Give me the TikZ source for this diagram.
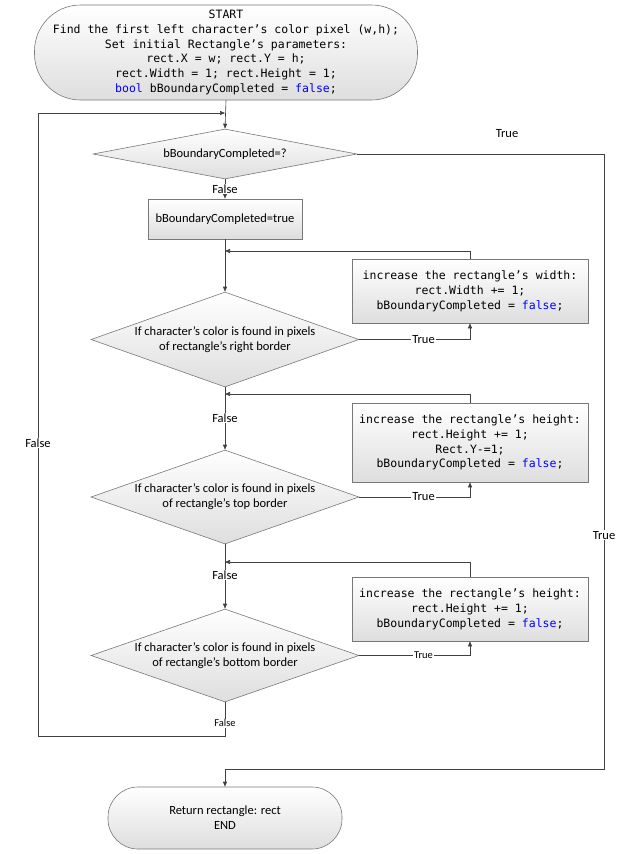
\documentclass[tikz,border=0pt]{standalone}
\usepackage{fontspec}
\setmainfont{Carlito}
\newfontfamily\codefont{DejaVu Sans Mono}
\usetikzlibrary{shapes.geometric,shapes.misc,arrows.meta}
\definecolor{kw}{RGB}{0,0,255}
\definecolor{lncol}{RGB}{64,64,64}
\definecolor{bdcol}{RGB}{120,120,120}
\begin{document}
\begin{tikzpicture}[x=1pt,y=-1pt,
  shadebox/.style={top color=white,bottom color=black!13,draw=bdcol,line width=0.6pt,inner sep=0pt,align=center},
  codefnt/.style={font=\codefont\fontsize{11.5}{14.8}\selectfont},
  sansfnt/.style={font=\fontsize{12.5}{15}\selectfont},
  termbox/.style={shadebox,rectangle},
  procbox/.style={shadebox,rectangle},
  decbox/.style={shadebox,diamond,sansfnt},
  arr/.style={draw=lncol,line width=0.6pt,-{Triangle[length=5pt,width=4pt]}},
  lbl/.style={sansfnt,fill=white,inner sep=0.8pt},
  lbls/.style={font=\fontsize{10.5}{12}\selectfont,fill=white,inner sep=0.8pt}]
\useasboundingbox (0,0) rectangle (639,854);

% nodes
\node[termbox,codefnt,rounded corners=46pt,minimum width=383pt,minimum height=95pt] (start) at (226,52.5)
  {START\\Find the first left character’s color pixel (w,h);\\Set initial Rectangle’s parameters:\\rect.X = w; rect.Y = h;\\rect.Width = 1; rect.Height = 1;\\{\color{kw}bool} bBoundaryCompleted = {\color{kw}false};};

\node[decbox,aspect=5.28,minimum width=264pt,minimum height=50pt] (d1) at (225,154) {bBoundaryCompleted=?};

\node[procbox,sansfnt,minimum width=154pt,minimum height=40pt] (r1) at (225,219) {bBoundaryCompleted=true};

\node[decbox,aspect=2.8,minimum width=268pt,minimum height=95pt] (d2) at (225,339.5)
  {If character’s color is found in pixels\\of rectangle’s right border};
\node[procbox,codefnt,minimum width=236pt,minimum height=64pt] (b2) at (470,291)
  {increase the rectangle’s width:\\rect.Width += 1;\\bBoundaryCompleted = {\color{kw}false};};

\node[decbox,aspect=2.8,minimum width=268pt,minimum height=94pt] (d3) at (225,497)
  {If character’s color is found in pixels\\of rectangle’s top border};
\node[procbox,codefnt,minimum width=236pt,minimum height=79pt] (b3) at (470,442.5)
  {increase the rectangle’s height:\\rect.Height += 1;\\Rect.Y-=1;\\bBoundaryCompleted = {\color{kw}false};};

\node[decbox,aspect=2.8,minimum width=268pt,minimum height=93pt] (d4) at (225,655.5)
  {If character’s color is found in pixels\\of rectangle’s bottom border};
\node[procbox,codefnt,minimum width=236pt,minimum height=64pt] (b4) at (470,609)
  {increase the rectangle’s height:\\rect.Height += 1;\\bBoundaryCompleted = {\color{kw}false};};

\node[termbox,sansfnt,rounded corners=30pt,minimum width=234pt,minimum height=62pt] (end) at (225,818)
  {Return rectangle: rect\\END};

\node[sansfnt] (truetop) at (507,134) {True};

% coordinates
\coordinate (lp1) at (225,113);
\coordinate (lp2) at (225,251);
\coordinate (lp3) at (225,394);
\coordinate (lp4) at (225,562);
\coordinate (tr1) at (604,154);
\coordinate (tr2) at (604,769);
\coordinate (tr3) at (225,769);
\coordinate (fb1) at (225,736);
\coordinate (fb2) at (38,736);
\coordinate (fb3) at (38,113);

% connectors
\draw[arr] (start.south) -- (d1.north);
\draw[arr] (d1.south) -- node[lbl]{False} (r1.north);
\draw[arr] (r1.south) -- (d2.north);
\draw[arr] (b2.north) |- (lp2);
\draw[arr] (d2.east) -| node[lbl,pos=0.29]{True} (b2.south);
\draw[arr] (d2.south) -- node[lbl,pos=0.49]{False} (d3.north);
\draw[arr] (b3.north) |- (lp3);
\draw[arr] (d3.east) -| node[lbl,pos=0.29]{True} (b3.south);
\draw[arr] (d3.south) -- node[lbl,pos=0.48]{False} (d4.north);
\draw[arr] (b4.north) |- (lp4);
\draw[arr] (d4.east) -| node[lbls,pos=0.29]{True} (b4.south);
\draw[arr] (d4.south) -- node[lbls,pos=0.62]{False} (fb1) -- (fb2) -- node[lbl,pos=0.47]{False} (fb3) -- (lp1);
\draw[arr] (d1.east) -- (tr1) -- node[lbl,pos=0.62]{True} (tr2) -- (tr3) -- (end.north);
\end{tikzpicture}
\end{document}
